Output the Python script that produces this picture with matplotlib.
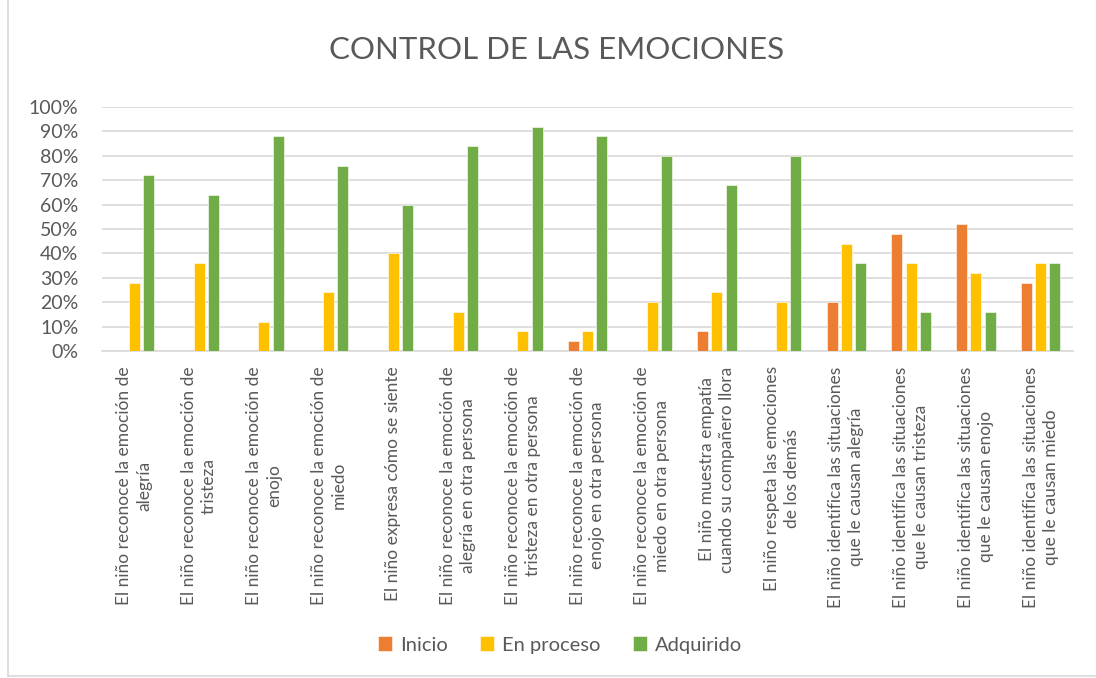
import numpy as np
from matplotlib import pyplot as plt
from matplotlib.lines import Line2D

plt.rcParams["font.family"] = ["Lato", "DejaVu Sans"]

# etiquetas de las categorías (ya partidas en dos líneas como en el original)
categorias = [
    "El niño reconoce la emoción de\nalegría",
    "El niño reconoce la emoción de\ntristeza",
    "El niño reconoce la emoción de\nenojo",
    "El niño reconoce la emoción de\nmiedo",
    "El niño expresa cómo se siente",
    "El niño reconoce la emoción de\nalegría en otra persona",
    "El niño reconoce la emoción de\ntristeza en otra persona",
    "El niño reconoce la emoción de\nenojo en otra persona",
    "El niño reconoce la emoción de\nmiedo en otra persona",
    "El niño muestra empatía\ncuando su compañero llora",
    "El niño respeta las emociones\nde los demás",
    "El niño identifica las situaciones\nque le causan alegría",
    "El niño identifica las situaciones\nque le causan tristeza",
    "El niño identifica las situaciones\nque le causan enojo",
    "El niño identifica las situaciones\nque le causan miedo",
]

inicio = [0, 0, 0, 0, 0, 0, 0, 4, 0, 8, 0, 20, 48, 52, 28]
en_proceso = [28, 36, 12, 24, 40, 16, 8, 8, 20, 24, 20, 44, 36, 32, 36]
adquirido = [72, 64, 88, 76, 60, 84, 92, 88, 80, 68, 80, 36, 16, 16, 36]

series = ["Inicio", "En proceso", "Adquirido"]
colores = ["#ED7D31", "#FFC000", "#70AD47"]
gris = "#595959"

fig = plt.figure(figsize=(10.96, 6.78), dpi=100)
ax = fig.add_axes([102 / 1096, 1 - 351 / 678, 971 / 1096, 244 / 678])

x = np.arange(len(categorias))
ancho = 0.17
paso = 0.22
for k, (vals, nombre, col) in enumerate(zip([inicio, en_proceso, adquirido], series, colores)):
    ax.bar(x + (k - 1) * paso, np.array(vals) / 100, ancho, color=col, label=nombre,
           edgecolor="white", linewidth=0.4, zorder=3)

ax.set_xlim(-0.5, len(categorias) - 0.5)
ax.set_ylim(0, 1)
ax.set_yticks(np.arange(0, 1.01, 0.1))
ax.set_yticklabels([f"{int(round(v * 100))}%" for v in np.arange(0, 1.01, 0.1)],
                   fontsize=14, color=gris)
ax.set_xticks(x)
ax.set_xticklabels(categorias, rotation=90, fontsize=12.5, color=gris,
                   ha="center", va="top", multialignment="center", linespacing=1.3)
ax.tick_params(axis="both", length=0)
ax.tick_params(axis="x", pad=11)
ax.tick_params(axis="y", pad=17)
ax.grid(axis="y", color="#D9D9D9", linewidth=1.2, zorder=0)
for s in ["top", "right", "left"]:
    ax.spines[s].set_visible(False)
ax.spines["bottom"].set_color("#D9D9D9")
ax.spines["bottom"].set_linewidth(1.2)

fig.text(557 / 1096, 1 - 50 / 678, "CONTROL DE LAS EMOCIONES", ha="center", va="center",
         fontsize=22.5, color=gris)

fig.legend(loc="center", bbox_to_anchor=(560 / 1096, 1 - 645 / 678), ncol=3, frameon=False,
           fontsize=14.5, labelcolor=gris, handlelength=0.7, handleheight=0.7,
           handletextpad=0.4, columnspacing=1.6)

# borde del área del gráfico
fig.add_artist(Line2D([8 / 1096, 8 / 1096], [0.003, 1], color="#D9D9D9", linewidth=1.2))
fig.add_artist(Line2D([8 / 1096, 1], [0.003, 0.003], color="#D9D9D9", linewidth=1.2))

fig.savefig("out.png", dpi=100)
